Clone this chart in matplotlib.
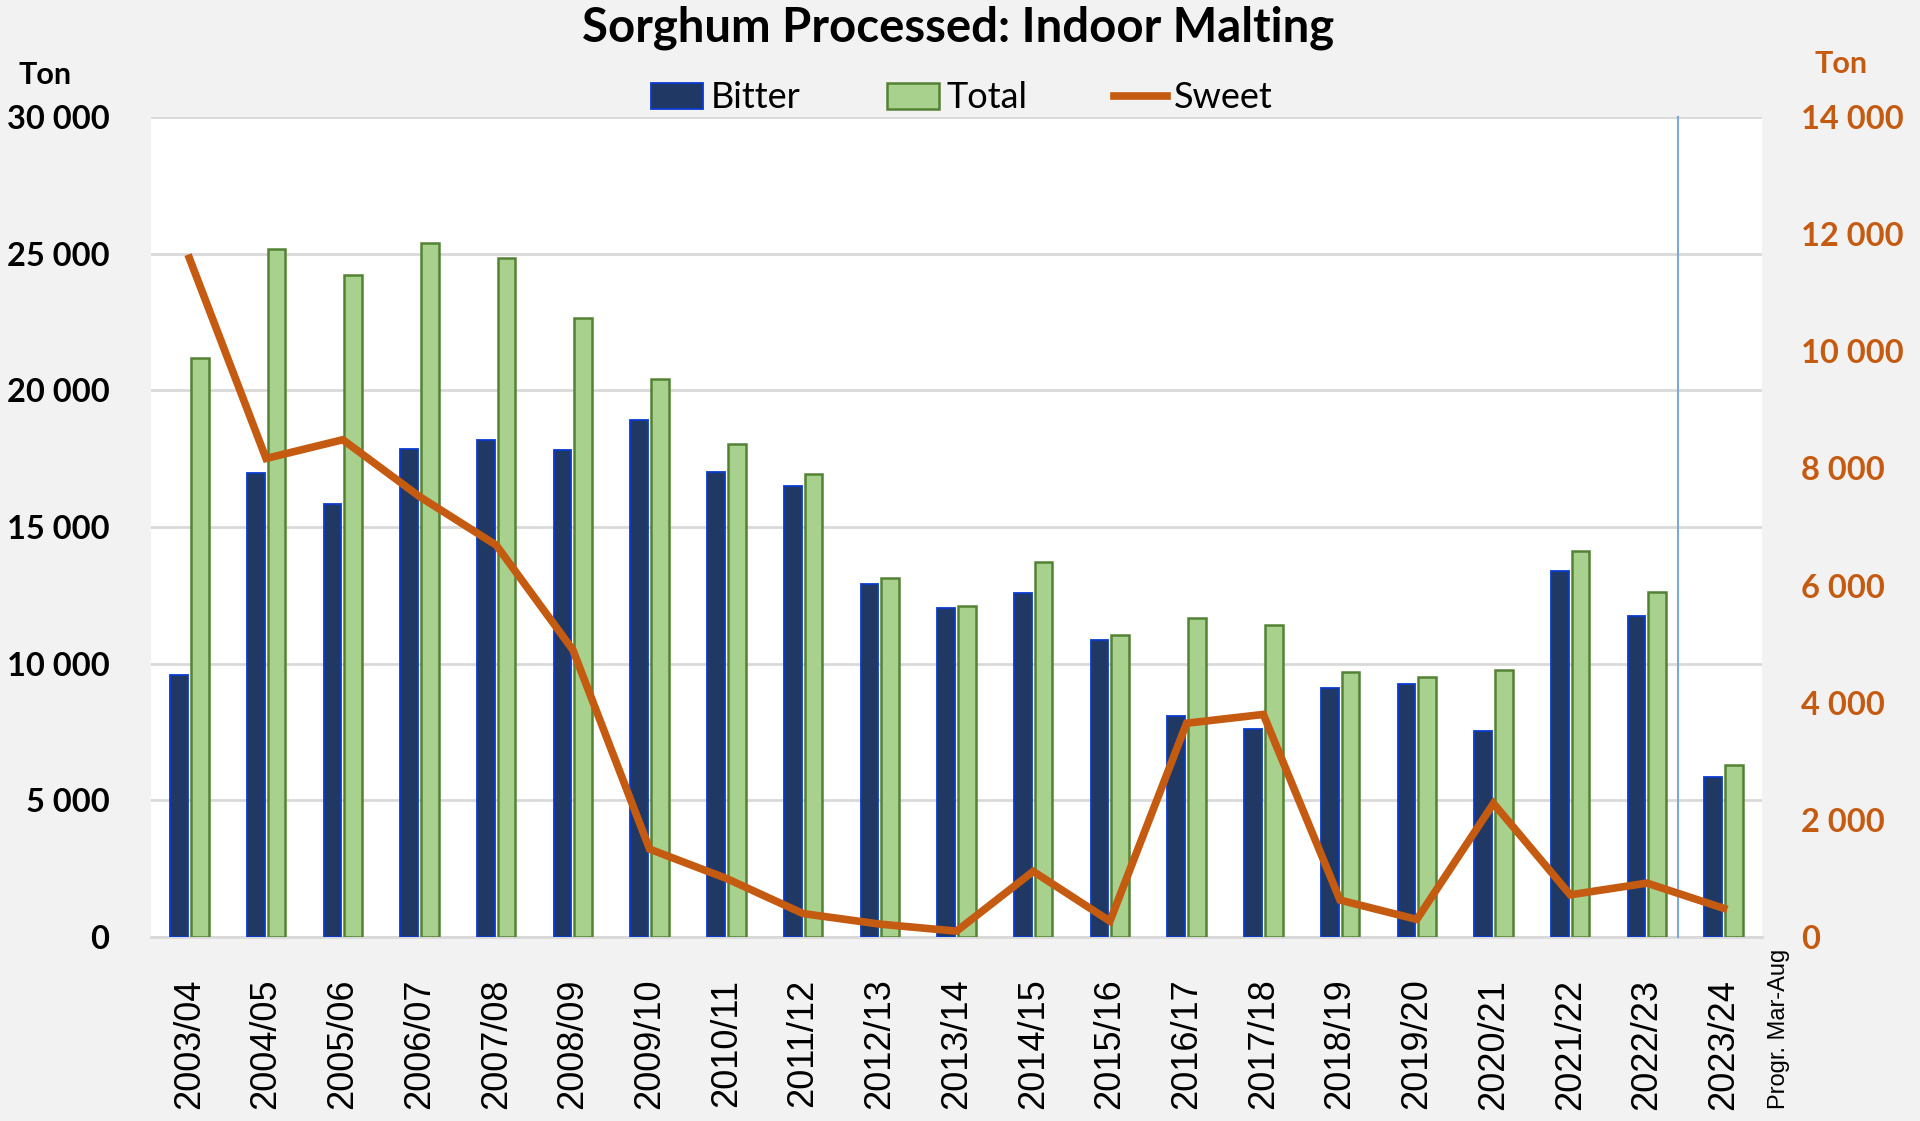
import numpy as np
import matplotlib.pyplot as plt
from matplotlib.ticker import FuncFormatter, MultipleLocator
from matplotlib.patches import Patch
from matplotlib.lines import Line2D

seasons = ['2003/04', '2004/05', '2005/06', '2006/07', '2007/08', '2008/09', '2009/10',
           '2010/11', '2011/12', '2012/13', '2013/14', '2014/15', '2015/16', '2016/17',
           '2017/18', '2018/19', '2019/20', '2020/21', '2021/22', '2022/23', '2023/24']
# tons
bitter = [9580, 16970, 15840, 17860, 18200, 17800, 18900, 17000, 16510, 12910, 12020,
          12570, 10870, 8080, 7610, 9100, 9240, 7550, 13390, 11750, 5850]
total = [21170, 25170, 24220, 25380, 24840, 22660, 20400, 18020, 16930, 13120, 12100,
         13730, 11060, 11670, 11400, 9710, 9500, 9770, 14120, 12630, 6300]
sweet = [11590, 8170, 8490, 7520, 6690, 4900, 1500, 1000, 400, 220, 100, 1120, 270,
         3650, 3800, 630, 300, 2280, 720, 920, 490]

BG = '#f2f2f2'
ORANGE = '#c55a11'
GRID = '#d9d9d9'

def ton_fmt(v, pos):
    return f"{int(v):,}".replace(",", " ")

fig = plt.figure(figsize=(19.2, 11.21), dpi=100, facecolor=BG)
ax = fig.add_axes([151 / 1920, 1 - 937 / 1121, 1611 / 1920, 820 / 1121])
ax.set_facecolor('white')

x = np.arange(len(seasons))
w = 0.23
ax.bar(x - 0.135, bitter, width=w, color='#1f3864', edgecolor='#0b3bd0', linewidth=1.3, zorder=3)
ax.bar(x + 0.135, total, width=w, color='#a9d18e', edgecolor='#548235', linewidth=1.8, zorder=3)

ax.set_xlim(-0.5, len(seasons) - 0.5)
ax.set_ylim(0, 30000)
ax.yaxis.set_major_locator(MultipleLocator(5000))
ax.yaxis.set_major_formatter(FuncFormatter(ton_fmt))
ax.grid(axis='y', color=GRID, linewidth=2, zorder=0)
ax.set_axisbelow(True)
for s in ['top', 'left', 'right']:
    ax.spines[s].set_visible(False)
ax.spines['bottom'].set_color(GRID)
ax.spines['bottom'].set_linewidth(2)
ax.tick_params(axis='y', length=0, pad=30, labelsize=23.5)
ax.tick_params(axis='x', length=0, pad=30)
ax.set_xticks(x)
ax.set_xticklabels(seasons, rotation=90, fontsize=26, family='Liberation Sans', va='top')
for lab in ax.get_yticklabels():
    lab.set_fontweight('bold')
    lab.set_family('Lato')

# marker between the last full season and the progressive one
ax.axvline(19.4, ymin=0, ymax=1, color='#7aa9dc', linewidth=1.5, zorder=4, clip_on=False)

ax2 = ax.twinx()
ax2.plot(x, sweet, color=ORANGE, linewidth=5.5, zorder=5, solid_joinstyle='miter')
ax2.set_ylim(0, 14000)
ax2.yaxis.set_major_locator(MultipleLocator(2000))
ax2.yaxis.set_major_formatter(FuncFormatter(ton_fmt))
for s in ['top', 'left', 'right', 'bottom']:
    ax2.spines[s].set_visible(False)
ax2.tick_params(axis='y', length=0, pad=28, labelsize=23.5, labelcolor=ORANGE)
for lab in ax2.get_yticklabels():
    lab.set_fontweight('bold')
    lab.set_family('Lato')

fig.text(958 / 1920, 1 - 28 / 1121, 'Sorghum Processed: Indoor Malting', ha='center', va='center',
         fontsize=34, fontweight='bold', family='Lato')
fig.text(45 / 1920, 1 - 75 / 1121, 'Ton', ha='center', va='center', fontsize=22,
         fontweight='bold', family='Lato')
fig.text(1841 / 1920, 1 - 64 / 1121, 'Ton', ha='center', va='center', fontsize=22,
         fontweight='bold', family='Lato', color=ORANGE)
fig.text(1779 / 1920, 1 - 949 / 1121, 'Progr. Mar-Aug', ha='center', va='top', rotation=90,
         fontsize=17, family='Liberation Sans')

handles = [Patch(facecolor='#1f3864', edgecolor='#0b3bd0', linewidth=1.3),
           Patch(facecolor='#a9d18e', edgecolor='#548235', linewidth=1.8),
           Line2D([0], [0], color=ORANGE, linewidth=5.5)]
fig.legend(handles, ['Bitter', 'Total', 'Sweet'], loc='center', bbox_to_anchor=(0.501, 1 - 98 / 1121),
           ncol=3, frameon=False, prop={'family': 'Lato', 'size': 26}, handlelength=1.45,
           handleheight=0.75, handletextpad=0.2, columnspacing=2.4)

fig.savefig('out.png', dpi=100, facecolor=BG)
